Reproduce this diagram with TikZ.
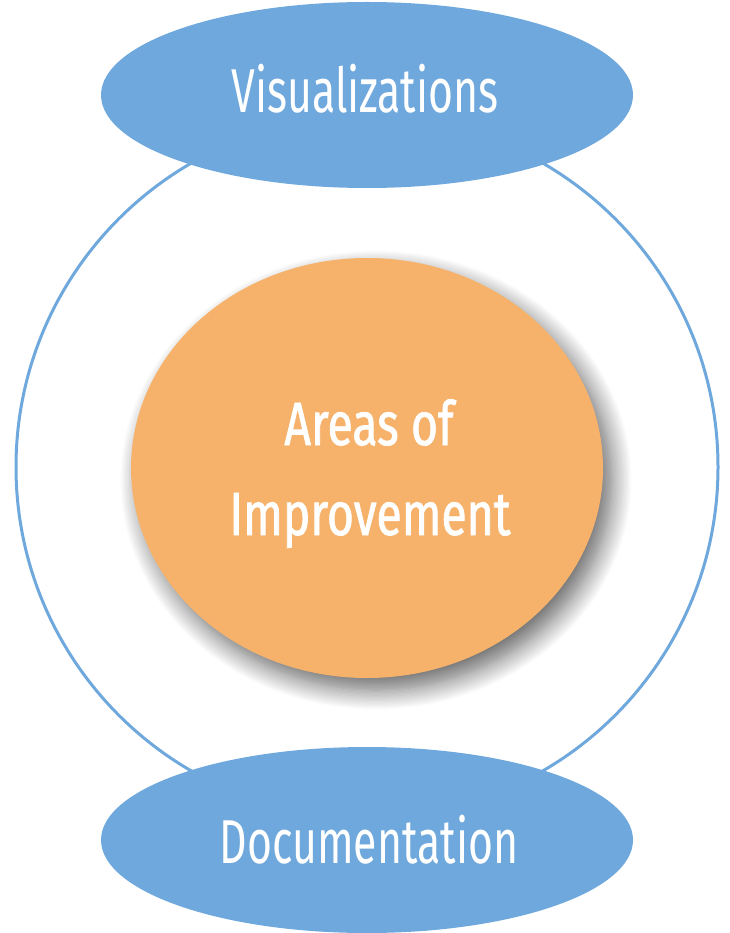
\documentclass[tikz,border=0pt]{standalone}
\usepackage{fontspec}
\usetikzlibrary{shapes.geometric,shadows.blur}
\newfontfamily\labelfont[FakeStretch=0.69]{Fira Sans}
\newfontfamily\corefont[FakeStretch=0.76,FakeBold=1.2]{Fira Sans}
\definecolor{ringblue}{HTML}{6FA8DC}
\definecolor{coreorange}{HTML}{F6B26B}
\tikzset{
  ring/.style={circle, draw=ringblue, line width=3pt, minimum size=702pt, inner sep=0pt},
  topic/.style={ellipse, fill=ringblue, minimum width=532pt, minimum height=186pt, inner sep=0pt},
  topictext/.style={anchor=base, inner sep=0pt, text=white, font=\labelfont\fontsize{62}{70}\selectfont},
  core/.style={ellipse, fill=coreorange, minimum width=472pt, minimum height=420pt, inner sep=0pt,
    blur shadow={shadow xshift=9pt, shadow yshift=-12pt, shadow blur radius=20pt,
      shadow blur steps=16, shadow opacity=60}},
  coretext/.style={anchor=base, inner sep=0pt, text=white, font=\corefont\fontsize{61}{70}\selectfont}
}
\begin{document}
\begin{tikzpicture}[x=1pt,y=-1pt]
  \useasboundingbox (0,0) rectangle (729,933);
  \node[ring] (outer) at (367,467) {};
  \node[topic] (vis) at (367,95) {};
  \node[topic] (doc) at (367,840) {};
  \node[core] (areas) at (367,468) {};
  \node[topictext] (vislabel) at (365,113) {Visualizations};
  \node[topictext] (doclabel) at (369,863) {Documentation};
  \node[coretext] (arealabel1) at (369,445) {Areas of};
  \node[coretext] (arealabel2) at (370,535) {Improvement};
\end{tikzpicture}
\end{document}
